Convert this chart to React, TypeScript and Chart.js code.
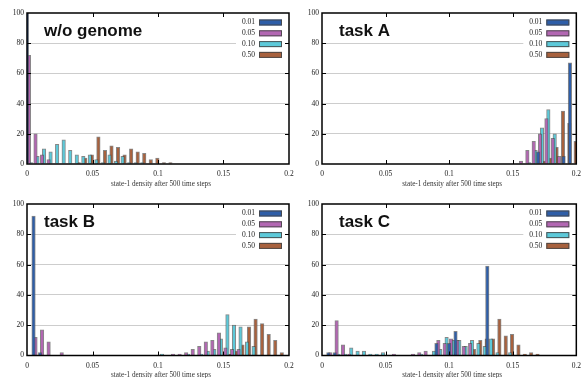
import React, { useEffect, useRef } from "react";
import { Chart, registerables } from "chart.js";

Chart.register(...registerables);

// histogram bin starts (state-1 density)
const BINS = [
  0, 0.005, 0.01, 0.015, 0.02, 0.025, 0.03, 0.035, 0.04, 0.045,
  0.05, 0.055, 0.06, 0.065, 0.07, 0.075, 0.08, 0.085, 0.09, 0.095,
  0.1, 0.105, 0.11, 0.115, 0.12, 0.125, 0.13, 0.135, 0.14, 0.145,
  0.15, 0.155, 0.16, 0.165, 0.17, 0.175, 0.18, 0.185, 0.19, 0.195,
];

const SERIES_LABELS = ["0.01", "0.05", "0.10", "0.50"];
const X_TICKS = [0, 0.05, 0.1, 0.15, 0.2];
const X_TICK_LABELS = ["0", "0.05", "0.1", "0.15", "0.2"];
const Y_TICKS = [0, 20, 40, 60, 80, 100];
const X_TITLE = "state-1 density after 500 time steps";

// w/o genome
const WO_001 = [
  100, 0, 0, 0, 0, 0, 0, 0, 0, 0,
  0, 0, 0, 0, 0, 0, 0, 0, 0, 0,
  0, 0, 0, 0, 0, 0, 0, 0, 0, 0,
  0, 0, 0, 0, 0, 0, 0, 0, 0, 0,
];
const WO_005 = [
  72, 20, 6, 3, 0, 0, 0, 0, 0, 0,
  0, 0, 0, 0, 0, 0, 0, 0, 0, 0,
  0, 0, 0, 0, 0, 0, 0, 0, 0, 0,
  0, 0, 0, 0, 0, 0, 0, 0, 0, 0,
];
const WO_010 = [
  1, 5, 10, 8, 13, 16, 9, 6, 5, 6,
  3, 1, 6, 2, 5, 1, 1, 1, 0, 0,
  0, 0, 0, 0, 0, 0, 0, 0, 0, 0,
  0, 0, 0, 0, 0, 0, 0, 0, 0, 0,
];
const WO_050 = [
  0, 0, 0, 0, 0, 0, 0, 1, 4, 6,
  18, 9, 12, 11, 6, 10, 8, 7, 3, 4,
  1, 1, 0, 0, 0, 0, 0, 0, 0, 0,
  0, 0, 0, 0, 0, 0, 0, 0, 0, 0,
];

// task A
const A_001 = [
  0, 0, 0, 0, 0, 0, 0, 0, 0, 0,
  0, 0, 0, 0, 0, 0, 0, 0, 0, 0,
  0, 0, 0, 0, 0, 0, 0, 0, 0, 0,
  0, 0, 0, 0, 8, 0, 0, 0, 5, 67,
];
const A_005 = [
  0, 0, 0, 0, 0, 0, 0, 0, 0, 0,
  0, 0, 0, 0, 0, 0, 0, 0, 0, 0,
  0, 0, 0, 0, 0, 0, 0, 0, 0, 0,
  0, 2, 9, 15, 20, 30, 17, 5, 0, 0,
];
const A_010 = [
  0, 0, 0, 0, 0, 0, 0, 0, 0, 0,
  0, 0, 0, 0, 0, 0, 0, 0, 0, 0,
  0, 0, 0, 0, 0, 0, 0, 0, 0, 0,
  0, 0, 1, 9, 24, 36, 20, 0, 0, 0,
];
const A_050 = [
  0, 0, 0, 0, 0, 0, 0, 0, 0, 0,
  0, 0, 0, 0, 0, 0, 0, 0, 0, 0,
  0, 0, 0, 0, 0, 0, 0, 0, 0, 0,
  0, 0, 0, 0, 2, 4, 11, 35, 27, 15,
];

// task B
const B_001 = [
  0, 92, 2, 0, 0, 0, 0, 0, 0, 0,
  0, 0, 0, 0, 0, 0, 0, 0, 0, 0,
  0, 0, 0, 0, 0, 0, 0, 0, 0, 0,
  0, 0, 0, 0, 0, 0, 0, 0, 0, 0,
];
const B_005 = [
  0, 12, 17, 9, 0, 2, 0, 0, 0, 0,
  0, 0, 0, 0, 0, 0, 0, 0, 0, 0,
  0, 0, 1, 1, 2, 4, 6, 9, 10, 15,
  5, 4, 4, 0, 0, 0, 0, 0, 0, 0,
];
const B_010 = [
  0, 0, 0, 0, 0, 0, 0, 0, 0, 0,
  0, 0, 0, 0, 0, 0, 0, 0, 0, 0,
  1, 0, 0, 0, 1, 0, 1, 3, 4, 11,
  27, 20, 19, 9, 6, 0, 0, 0, 0, 0,
];
const B_050 = [
  0, 0, 0, 0, 0, 0, 0, 0, 0, 0,
  0, 0, 0, 0, 0, 0, 0, 0, 0, 0,
  0, 0, 0, 0, 0, 0, 0, 0, 0, 0,
  1, 3, 7, 19, 24, 21, 14, 10, 2, 0,
];

// task C
const C_001 = [
  0, 2, 2, 0, 0, 0, 0, 0, 0, 0,
  0, 0, 0, 0, 0, 0, 0, 0, 8, 0,
  8, 16, 0, 0, 0, 0, 59, 0, 0, 0,
  0, 0, 0, 0, 0, 0, 0, 0, 0, 0,
];
const C_005 = [
  0, 2, 23, 7, 1, 0, 0, 0, 0, 0,
  0, 1, 0, 0, 1, 2, 3, 0, 10, 8,
  11, 10, 6, 8, 0, 0, 0, 0, 0, 0,
  0, 0, 0, 0, 0, 0, 0, 0, 0, 0,
];
const C_010 = [
  0, 0, 1, 1, 5, 3, 3, 1, 1, 2,
  0, 0, 0, 0, 0, 1, 0, 3, 4, 12,
  10, 10, 6, 10, 8, 6, 11, 2, 0, 2,
  0, 0, 0, 0, 0, 0, 0, 0, 0, 0,
];
const C_050 = [
  0, 0, 0, 0, 0, 0, 0, 0, 0, 0,
  0, 0, 0, 0, 0, 0, 0, 0, 0, 0,
  2, 0, 0, 4, 10, 11, 11, 24, 13, 14,
  7, 1, 2, 1, 0, 0, 0, 0, 0, 0,
];

const COLORS = ["#2e5ea8", "#b266b2", "#5cc9d9", "#a8613d"];
const BORDER = "rgba(70,70,70,0.65)";
const SERIES_SHIFT = 0.0015;
const SERIF = "'Liberation Serif', 'DejaVu Serif', serif";

type Panel = {
  title: string;
  series: number[][];
  x: number;
  y: number;
  w: number;
  h: number;
  yW: number;
  padTop: number;
  padRight: number;
  xH: number;
  titleGap: number;
};

const PANELS: Panel[] = [
  { title: "w/o genome", series: [WO_001, WO_005, WO_010, WO_050], x: 0, y: 0, w: 300, h: 190, yW: 27, padTop: 13, padRight: 11, xH: 26, titleGap: 20 },
  { title: "task A", series: [A_001, A_005, A_010, A_050], x: 293, y: 0, w: 294, h: 190, yW: 29, padTop: 13, padRight: 2, xH: 26, titleGap: 20 },
  { title: "task B", series: [B_001, B_005, B_010, B_050], x: 0, y: 190, w: 300, h: 188, yW: 27, padTop: 14, padRight: 11, xH: 22.5, titleGap: 19.5 },
  { title: "task C", series: [C_001, C_005, C_010, C_050], x: 293, y: 190, w: 294, h: 188, yW: 29, padTop: 14, padRight: 2, xH: 22.5, titleGap: 19.5 },
];

function makeDecor(p: Panel) {
  return {
    id: "decor",
    afterDatasetsDraw(chart: any) {
      const { ctx, chartArea, scales } = chart;
      const { left, right, top, bottom } = chartArea;
      ctx.save();
      // legend
      ctx.fillStyle = "#ffffff";
      ctx.fillRect(right - 53, top + 3, 52, 45);
      ctx.font = `7.5px ${SERIF}`;
      ctx.textAlign = "right";
      ctx.textBaseline = "middle";
      SERIES_LABELS.forEach((lab, i) => {
        const cy = top + 9.5 + i * 10.8;
        ctx.fillStyle = "#222";
        ctx.fillText(lab, right - 34, cy);
        ctx.fillStyle = COLORS[i];
        ctx.fillRect(right - 30, cy - 3, 23, 6);
        ctx.strokeStyle = "rgba(70,70,70,0.9)";
        ctx.lineWidth = 1;
        ctx.strokeRect(right - 29.5, cy - 2.5, 22, 5);
      });
      // frame
      ctx.strokeStyle = "#000";
      ctx.lineWidth = 1.5;
      ctx.strokeRect(left, top, right - left, bottom - top);
      // inward ticks
      ctx.lineWidth = 1;
      ctx.beginPath();
      X_TICKS.forEach((v) => {
        if (v <= 0 || v >= 0.2) return;
        const px = Math.round(scales.x.getPixelForValue(v)) + 0.5;
        ctx.moveTo(px, bottom);
        ctx.lineTo(px, bottom - 4);
        ctx.moveTo(px, top);
        ctx.lineTo(px, top + 4);
      });
      Y_TICKS.forEach((v) => {
        if (v <= 0 || v >= 100) return;
        const py = Math.round(scales.y.getPixelForValue(v)) + 0.5;
        ctx.moveTo(left, py);
        ctx.lineTo(left + 4, py);
        ctx.moveTo(right, py);
        ctx.lineTo(right - 4, py);
      });
      ctx.stroke();
      // panel label
      ctx.fillStyle = "#111";
      ctx.font = "bold 17px 'Liberation Sans', Arial, sans-serif";
      ctx.textAlign = "left";
      ctx.textBaseline = "alphabetic";
      ctx.fillText(p.title, left + 17, top + 23);
      // x title
      ctx.fillStyle = "#333";
      ctx.font = `7.2px ${SERIF}`;
      ctx.textAlign = "center";
      ctx.textBaseline = "middle";
      ctx.fillText(X_TITLE, (left + right) / 2 + 3, bottom + p.titleGap);
      ctx.restore();
    },
  };
}

function PanelChart({ p }: { p: Panel }) {
  const ref = useRef<HTMLCanvasElement>(null);
  useEffect(() => {
    if (!ref.current) return;
    const datasets = p.series.map((vals, s) => ({
      type: "bar" as const,
      label: SERIES_LABELS[s],
      data: BINS.map((b, i) => ({ x: b + s * SERIES_SHIFT, y: vals[i] })).filter((d) => d.y > 0),
      backgroundColor: COLORS[s],
      borderColor: BORDER,
      borderWidth: 1,
      barThickness: 3.5,
      grouped: false,
      clip: 0,
    }));
    const chart = new Chart(ref.current, {
      type: "bar",
      data: { datasets },
      plugins: [makeDecor(p)],
      options: {
        animation: false,
        responsive: false,
        maintainAspectRatio: false,
        events: [],
        layout: { padding: { left: 0, top: p.padTop, right: p.padRight, bottom: 0 } },
        plugins: { legend: { display: false }, tooltip: { enabled: false } },
        scales: {
          x: {
            type: "linear",
            min: 0,
            max: 0.2,
            offset: false,
            grid: { display: false, drawTicks: false },
            border: { display: false },
            afterBuildTicks: (scale: any) => {
              scale.ticks = X_TICKS.map((v) => ({ value: v }));
            },
            afterFit: (scale: any) => {
              scale.height = p.xH;
            },
            ticks: {
              autoSkip: false,
              maxRotation: 0,
              padding: 6,
              color: "#222",
              font: { family: SERIF, size: 7.5 },
              callback: (_v: any, i: number) => X_TICK_LABELS[i],
            },
          },
          y: {
            type: "linear",
            min: 0,
            max: 100,
            grid: {
              drawTicks: false,
              lineWidth: 1,
              color: (c: any) =>
                c.tick && (c.tick.value === 0 || c.tick.value === 100) ? "rgba(0,0,0,0)" : "#cdcdcd",
            },
            border: { display: false },
            afterBuildTicks: (scale: any) => {
              scale.ticks = Y_TICKS.map((v) => ({ value: v }));
            },
            afterFit: (scale: any) => {
              scale.width = p.yW;
            },
            ticks: {
              padding: 3,
              color: "#222",
              font: { family: SERIF, size: 7.5 },
              callback: (v: any) => String(v),
            },
          },
        },
      } as any,
    } as any);
    return () => chart.destroy();
  }, [p]);
  return (
    <canvas
      ref={ref}
      width={p.w}
      height={p.h}
      style={{ position: "absolute", left: p.x, top: p.y, width: p.w, height: p.h }}
    />
  );
}

export default function App() {
  return (
    <div
      style={{
        position: "fixed",
        left: 0,
        top: 0,
        width: 587,
        height: 378,
        background: "#fff",
        overflow: "hidden",
      }}
    >
      {PANELS.map((p) => (
        <PanelChart key={p.title} p={p} />
      ))}
    </div>
  );
}
